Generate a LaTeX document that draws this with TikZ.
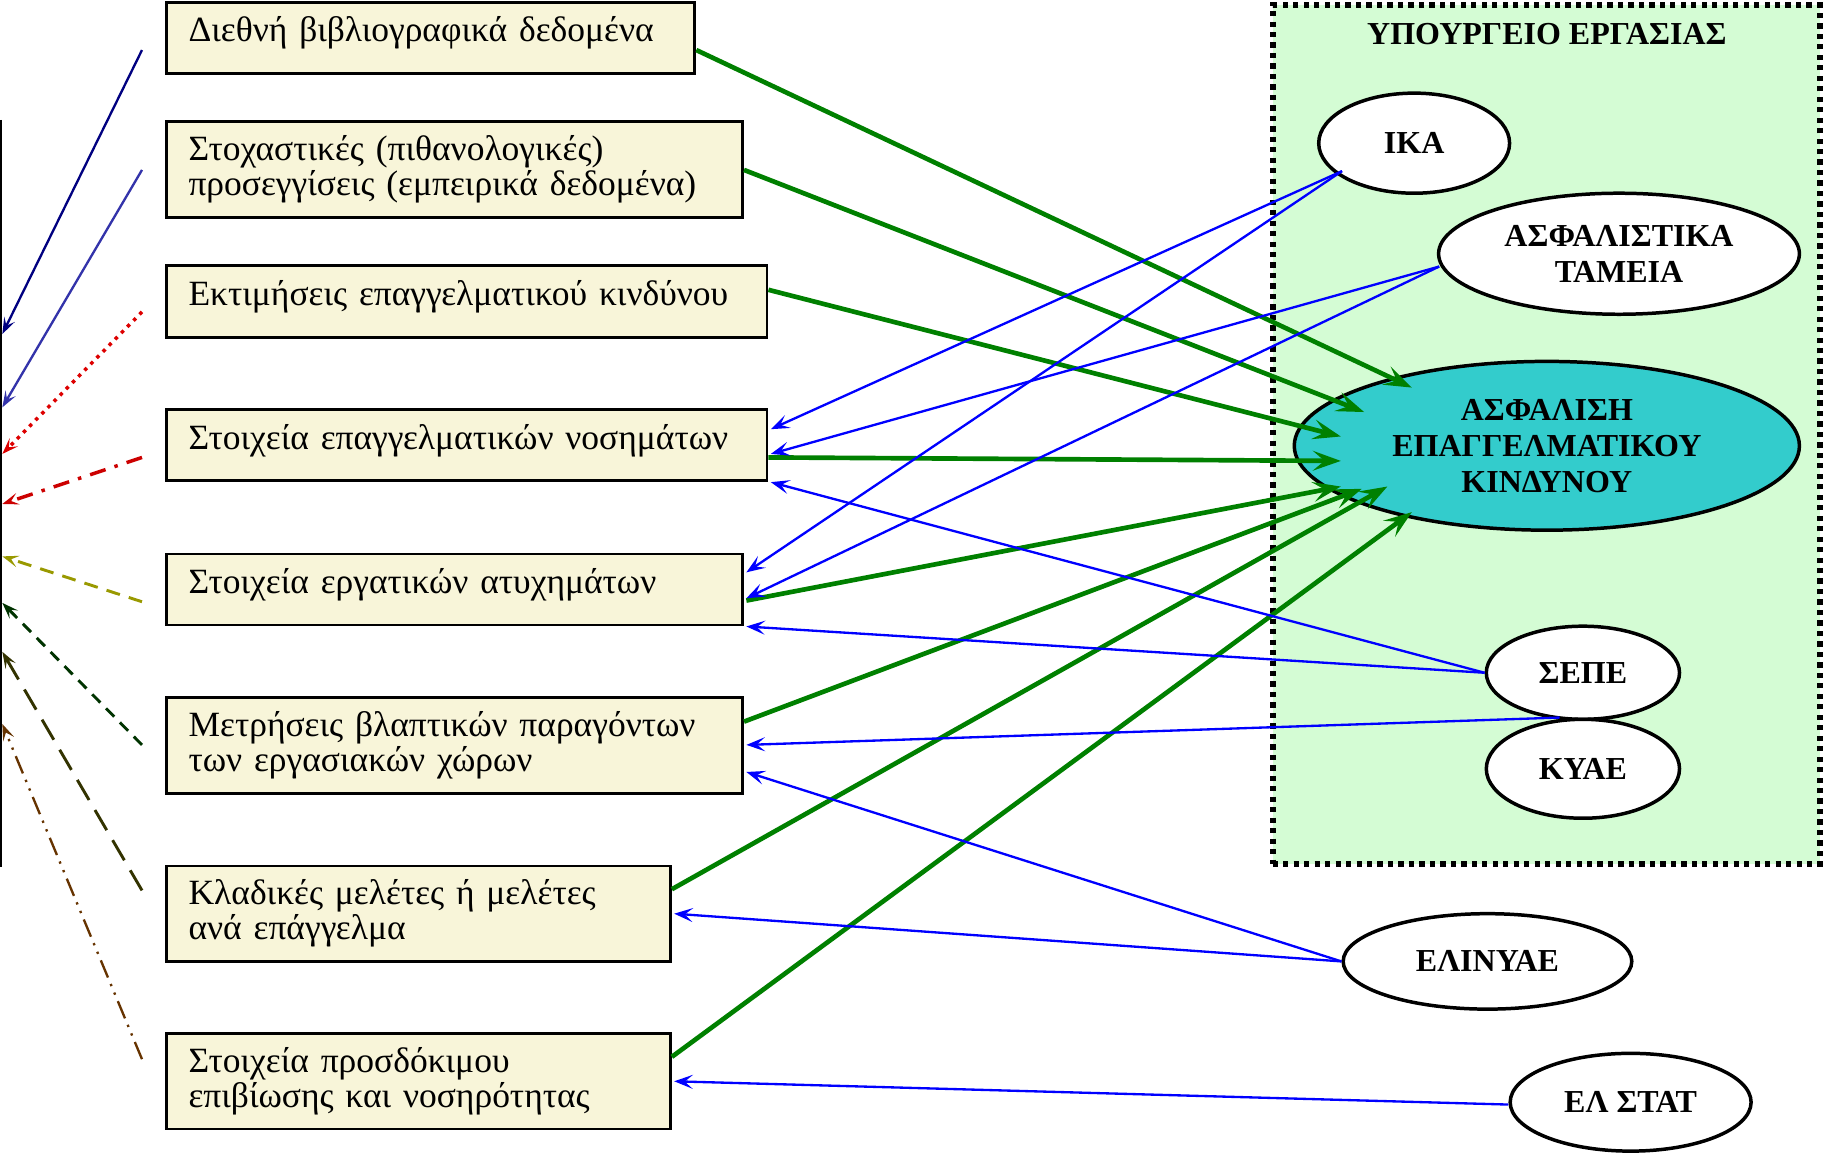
\documentclass[tikz,border=0pt]{standalone}
\usepackage{fontspec}
\setmainfont{Liberation Serif}
\usetikzlibrary{arrows.meta,shapes.geometric,calc}
\definecolor{boxfill}{HTML}{F8F5D9}
\definecolor{minfill}{HTML}{D4FCD4}
\definecolor{cenfill}{HTML}{33CCCC}
\definecolor{garrow}{HTML}{008000}
\definecolor{barrow}{HTML}{0000FF}
\definecolor{lnavy}{HTML}{000080}
\definecolor{lslate}{HTML}{3333AA}
\definecolor{lred}{HTML}{DD0000}
\definecolor{lred2}{HTML}{CC0000}
\definecolor{lolive}{HTML}{999900}
\definecolor{ldgreen}{HTML}{003300}
\definecolor{ldolive}{HTML}{333300}
\definecolor{lbrown}{HTML}{663300}
\begin{document}
\begin{tikzpicture}[x=1pt,y=-1pt,
  srcbox/.style={draw=black,line width=2.5pt,fill=boxfill,rectangle,inner sep=0pt,align=left,
    font=\fontsize{30.5}{30}\selectfont},
  oneline/.style={text height=20pt,text depth=13pt},
  org/.style={draw=black,line width=3pt,fill=white,ellipse,inner sep=0pt,align=center,
    font=\fontsize{27.5}{31}\selectfont\bfseries},
  garr/.style={draw=garrow,line width=4pt,-{Stealth[length=24pt,width=17pt,inset=10pt]}},
  barr/.style={draw=barrow,line width=2pt,-{Stealth[length=16pt,width=12pt,inset=7pt]}},
  larr/.style={line width=2pt,-{Stealth[length=14pt,width=10pt,inset=6pt]}}
]
\useasboundingbox (0,0) rectangle (1568,991.5);
% ministry region
\node[draw=black,line width=5pt,dash pattern=on 4.5pt off 4.5pt,fill=minfill,rectangle,
  minimum width=470pt,minimum height=738pt,inner sep=0pt] (min) at (1328.5,373.5) {};
\node[font=\fontsize{27.5}{30}\selectfont\bfseries] (mintitle) at (1329,29) {ΥΠΟΥΡΓΕΙΟ ΕΡΓΑΣΙΑΣ};
% source boxes
\node[srcbox,oneline,minimum width=454pt,minimum height=61pt,text width=416pt] (b1) at (370,32.5) {Διεθνή βιβλιογραφικά δεδομένα};
\node[srcbox,minimum width=495pt,minimum height=83pt,text width=457pt] (b2) at (390.5,145.5) {Στοχαστικές (πιθανολογικές)\\προσεγγίσεις (εμπειρικά δεδομένα)};
\node[srcbox,oneline,minimum width=516pt,minimum height=62pt,text width=478pt] (b3) at (401,259) {Εκτιμήσεις επαγγελματικού κινδύνου};
\node[srcbox,oneline,minimum width=516pt,minimum height=61pt,text width=478pt] (b4) at (401,382.5) {Στοιχεία επαγγελματικών νοσημάτων};
\node[srcbox,oneline,minimum width=495pt,minimum height=61pt,text width=457pt] (b5) at (390.5,506.5) {Στοιχεία εργατικών ατυχημάτων};
\node[srcbox,minimum width=495pt,minimum height=83pt,text width=457pt] (b6) at (390.5,640.5) {Μετρήσεις βλαπτικών παραγόντων\\των εργασιακών χώρων};
\node[srcbox,minimum width=433pt,minimum height=82pt,text width=395pt] (b7) at (359.5,785) {Κλαδικές μελέτες ή μελέτες\\ανά επάγγελμα};
\node[srcbox,minimum width=433pt,minimum height=82pt,text width=395pt] (b8) at (359.5,929) {Στοιχεία προσδόκιμου\\επιβίωσης και νοσηρότητας};
% organisations
\node[org,minimum width=164pt,minimum height=86pt] (ika) at (1215,123) {ΙΚΑ};
\node[org,minimum width=310pt,minimum height=104pt] (tam) at (1391,218) {ΑΣΦΑΛΙΣΤΙΚΑ\\ΤΑΜΕΙΑ};
\node[org,fill=cenfill,minimum width=434pt,minimum height=145pt] (cen) at (1329,383) {ΑΣΦΑΛΙΣΗ\\ΕΠΑΓΓΕΛΜΑΤΙΚΟΥ\\ΚΙΝΔΥΝΟΥ};
\node[org,minimum width=166pt,minimum height=80pt] (sepe) at (1360,578) {ΣΕΠΕ};
\node[org,minimum width=166pt,minimum height=85pt] (kyae) at (1360,660.5) {ΚΥΑΕ};
\node[org,minimum width=248pt,minimum height=82pt] (elin) at (1278,826) {ΕΛΙΝΥΑΕ};
\node[org,minimum width=207pt,minimum height=84pt] (elst) at (1401,947) {ΕΛ ΣΤΑΤ};
% green arrows
\draw[garr] ($(b1.east)+(0,10.5)$) -- ($(cen.center)+(-116,-50)$);
\draw[garr] ($(b2.east)+(0,0.5)$) -- ($(cen.center)+(-157,-29)$);
\draw[garr] ($(b3.east)+(0,-10)$) -- ($(cen.center)+(-177,-8)$);
\draw[garr] ($(b4.east)+(0,10.5)$) -- ($(cen.center)+(-177,13)$);
\draw[garr] ($(b5.east)+(2,9.5)$) -- ($(cen.center)+(-177,35)$);
\draw[garr] ($(b6.east)+(0,-20.5)$) -- ($(cen.center)+(-159,37)$);
\draw[garr] ($(b7.east)+(0,-21)$) -- ($(cen.center)+(-137,35)$);
\draw[garr] ($(b8.east)+(0,-21)$) -- ($(cen.center)+(-116,57)$);
% blue arrows
\draw[barr] ($(ika.center)+(-62,24)$) -- ($(b4.north east)+(2,18)$);
\draw[barr] ($(ika.center)+(-62,24)$) -- ($(b5.north east)+(2,17)$);
\draw[barr] ($(tam.west)+(2,11)$) -- ($(b4.east)+(2,7.5)$);
\draw[barr] ($(tam.west)+(2,11)$) -- ($(b5.east)+(2,7.5)$);
\draw[barr] (sepe.west) -- ($(b4.south east)+(2,0)$);
\draw[barr] (sepe.west) -- ($(b5.south east)+(2,0)$);
\draw[barr] ($(kyae.north)+(-20,0)$) -- ($(b6.east)+(2,-0.5)$);
\draw[barr] (elin.west) -- ($(b6.south east)+(2,-20)$);
\draw[barr] (elin.west) -- ($(b7.east)+(2,0)$);
\draw[barr] ($(elst.west)+(0,2)$) -- ($(b8.east)+(2,0)$);
% left bar and converging lines
\coordinate (vtop) at (1,103);
\coordinate (vbot) at (1,745);
\draw[black,line width=2pt] (vtop) -- (vbot);
\coordinate (s1) at (122,43);   \coordinate (e1) at (2,287);
\coordinate (s2) at (122,146);  \coordinate (e2) at (2,350);
\coordinate (s3) at (122,268);  \coordinate (e3) at (2,390);
\coordinate (s4) at (122,393);  \coordinate (e4) at (2,433);
\coordinate (s5) at (122,517);  \coordinate (e5) at (2,478);
\coordinate (s6) at (122,640);  \coordinate (e6) at (2,518);
\coordinate (s7) at (122,765);  \coordinate (e7) at (2,560);
\coordinate (s8) at (122,910);  \coordinate (e8) at (2,622);
\draw[larr,lnavy] (s1) -- (e1);
\draw[larr,lslate] (s2) -- (e2);
\draw[larr,lred,line width=3pt,dash pattern=on 3pt off 4.5pt] (s3) -- (e3);
\draw[larr,lred2,line width=3pt,dash pattern=on 14pt off 8pt on 3pt off 8pt] (s4) -- (e4);
\draw[larr,lolive,line width=2.5pt,dash pattern=on 12pt off 8pt] (s5) -- (e5);
\draw[larr,ldgreen,line width=2.5pt,dash pattern=on 10pt off 7pt] (s6) -- (e6);
\draw[larr,ldolive,line width=2.5pt,dash pattern=on 20pt off 10pt] (s7) -- (e7);
\draw[larr,lbrown,dash pattern=on 16pt off 6pt on 2pt off 6pt on 2pt off 6pt] (s8) -- (e8);
\end{tikzpicture}
\end{document}
